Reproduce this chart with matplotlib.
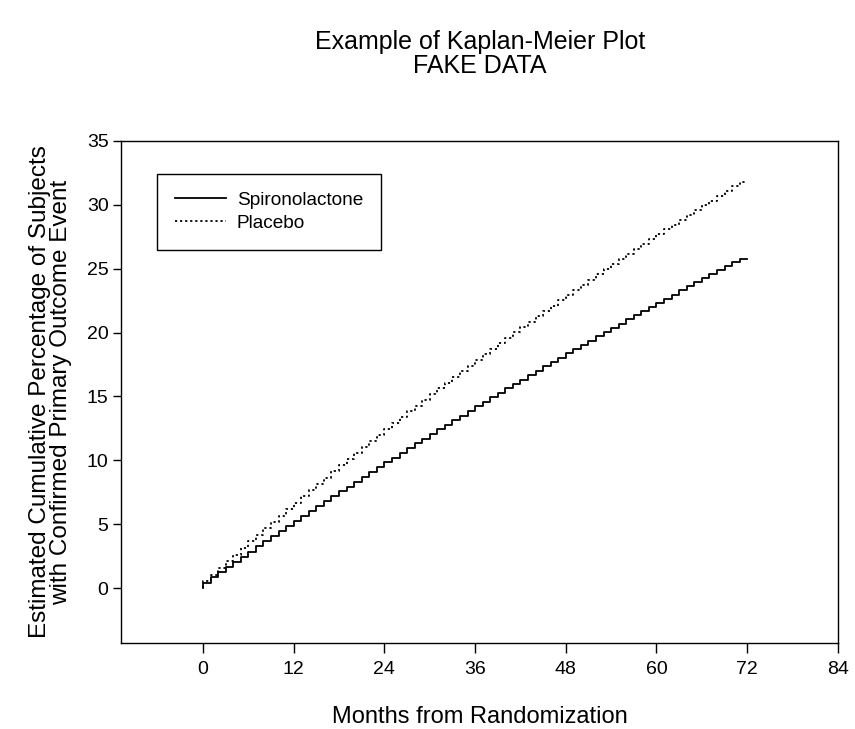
import matplotlib.pyplot as plt

plt.rcParams['font.family'] = ['Liberation Sans', 'DejaVu Sans']

# month at which each step occurs (start of month)
months = list(range(72))

# cumulative % with event, value after the step at each month
spiro = [0.41, 0.83, 1.24, 1.64, 2.05, 2.46, 2.86, 3.26, 3.66, 4.06,
         4.46, 4.85, 5.24, 5.64, 6.03, 6.42, 6.80, 7.19, 7.57, 7.95,
         8.33, 8.71, 9.09, 9.47, 9.84, 10.21, 10.59, 10.96, 11.32, 11.69,
         12.06, 12.42, 12.78, 13.14, 13.50, 13.86, 14.22, 14.57, 14.92, 15.27,
         15.63, 15.97, 16.32, 16.67, 17.01, 17.36, 17.70, 18.04, 18.38, 18.71,
         19.05, 19.38, 19.72, 20.05, 20.38, 20.71, 21.04, 21.36, 21.69, 22.01,
         22.34, 22.66, 22.98, 23.30, 23.61, 23.93, 24.24, 24.56, 24.87, 25.18,
         25.49, 25.80]
placebo = [0.53, 1.06, 1.58, 2.10, 2.62, 3.14, 3.65, 4.16, 4.67, 5.18,
           5.68, 6.18, 6.68, 7.17, 7.66, 8.15, 8.64, 9.13, 9.61, 10.09,
           10.56, 11.04, 11.51, 11.98, 12.44, 12.91, 13.37, 13.83, 14.29, 14.74,
           15.19, 15.64, 16.09, 16.53, 16.98, 17.42, 17.86, 18.29, 18.72, 19.16,
           19.58, 20.01, 20.43, 20.86, 21.28, 21.69, 22.11, 22.52, 22.93, 23.34,
           23.75, 24.15, 24.55, 24.95, 25.35, 25.75, 26.14, 26.53, 26.92, 27.31,
           27.70, 28.08, 28.46, 28.84, 29.22, 29.59, 29.96, 30.34, 30.71, 31.07,
           31.44, 31.80]
end_month = 72

fig = plt.figure(figsize=(8.55, 7.29), dpi=100)
ax = fig.add_axes([0.1415, 0.118, 0.8385, 0.6886])

x = [0] + months + [end_month]
ax.step(x, [0] + spiro + [spiro[-1]], where='post', color='black', lw=1.3,
        label='Spironolactone')
ax.step(x, [0] + placebo + [placebo[-1]], where='post', color='black', lw=1.3,
        linestyle=(0, (1.2, 1.6)), label='Placebo')

ax.set_xlim(-10.85, 84)
ax.set_ylim(-4.3, 35)
ax.set_xticks(range(0, 85, 12))
ax.set_yticks(range(0, 36, 5))
ax.tick_params(direction='out', width=1, labelsize=14)
ax.tick_params(axis='x', length=7, pad=6)
ax.tick_params(axis='y', length=6, pad=3)
for s in ax.spines.values():
    s.set_linewidth(1)

ax.set_xlabel('Months from Randomization', fontsize=17)
ax.xaxis.set_label_coords(0.5, -0.125)
ax.set_ylabel('Estimated Cumulative Percentage of Subjects\nwith Confirmed Primary Outcome Event',
              fontsize=17.5, linespacing=0.93)
ax.yaxis.set_label_coords(-0.068, 0.5)

fig.text(0.561, 0.942, 'Example of Kaplan-Meier Plot', ha='center', va='center', fontsize=18)
fig.text(0.561, 0.909, 'FAKE DATA', ha='center', va='center', fontsize=18)

leg = ax.legend(loc='upper left', bbox_to_anchor=(0.05, 0.935), fontsize=13.7,
                frameon=True, fancybox=False, edgecolor='black', framealpha=1,
                handlelength=2.7, borderpad=0.95, labelspacing=0.3, handletextpad=0.55,
                borderaxespad=0)
leg.get_frame().set_linewidth(1)

fig.savefig('out.png', dpi=100)
